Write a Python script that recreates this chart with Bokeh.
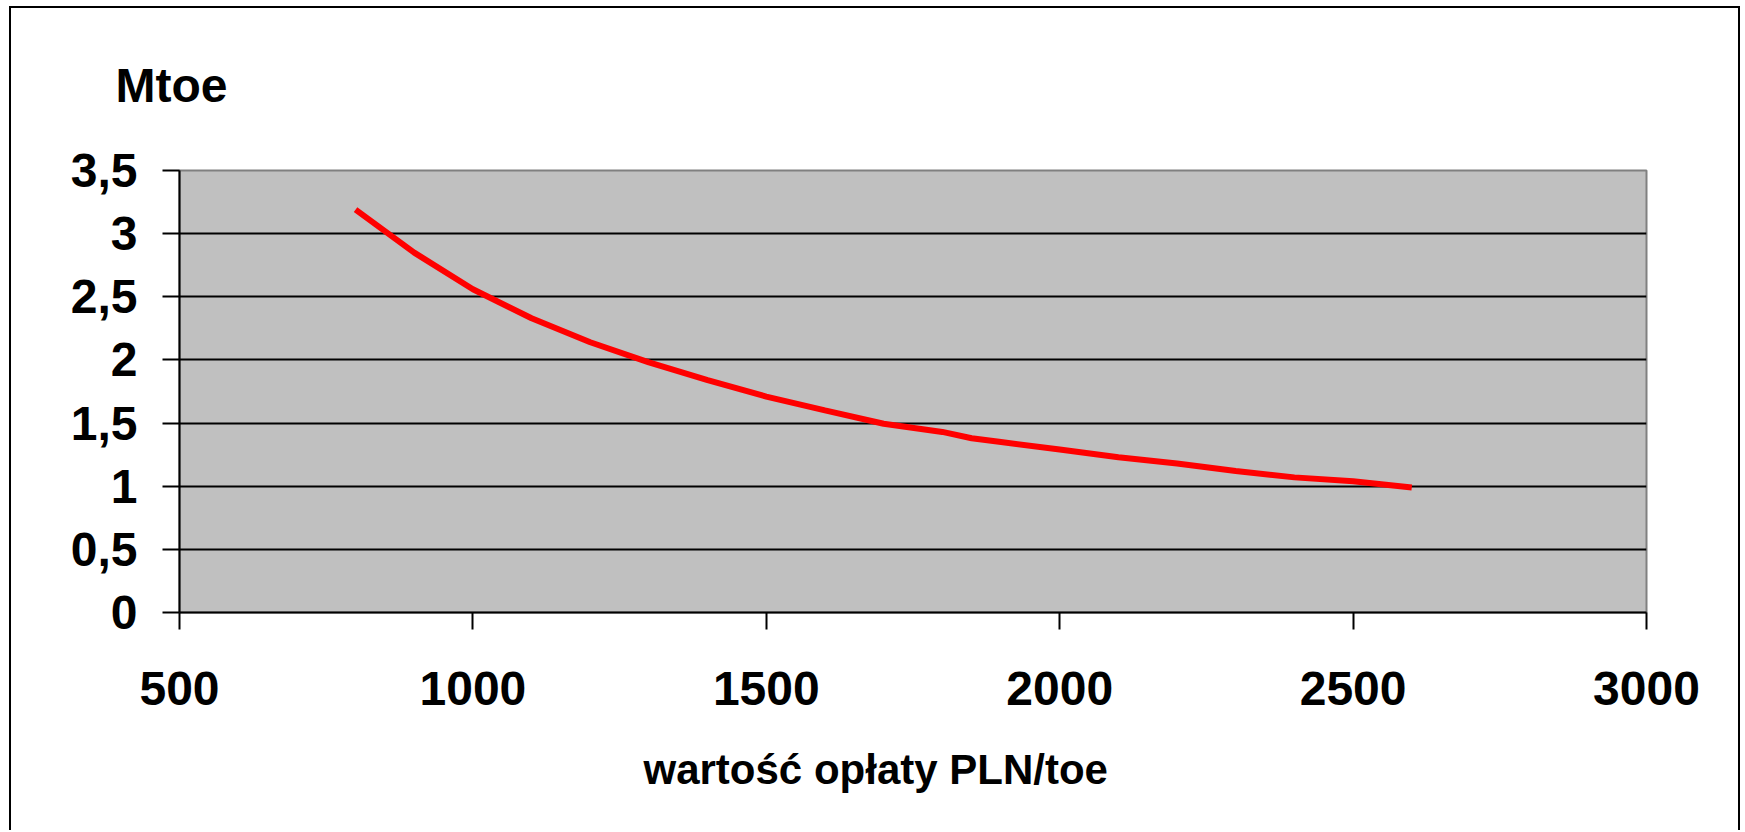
from bokeh.plotting import figure
from bokeh.models import Range1d, FixedTicker, CustomJSTickFormatter, Title
from bokeh.embed import file_html
from bokeh.resources import INLINE

# ---- data ----
fee_pln_per_toe = [800, 900, 1000, 1100, 1200, 1300, 1400, 1500, 1600, 1700,
                   1800, 1850, 1900, 2000, 2100, 2200, 2300, 2400, 2500, 2600]
mtoe = [3.19, 2.85, 2.56, 2.33, 2.14, 1.98, 1.84, 1.71, 1.60, 1.495,
        1.43, 1.38, 1.35, 1.29, 1.23, 1.18, 1.12, 1.07, 1.04, 0.99]
x_ticks = [500, 1000, 1500, 2000, 2500, 3000]
y_ticks = [0, 0.5, 1, 1.5, 2, 2.5, 3, 3.5]
y_unit_label = "Mtoe"
x_title = "wartość opłaty PLN/toe"

FONT = "Liberation Sans"
W, H = 1742, 830

p = figure(width=W, height=H, output_backend="svg", toolbar_location=None,
           x_range=Range1d(x_ticks[0], x_ticks[-1]),
           y_range=Range1d(y_ticks[0], y_ticks[-1]),
           min_border_left=179, min_border_right=96,
           min_border_top=170, min_border_bottom=218)

p.stylesheets = [":host { position: relative; } "
                 ":host::after { content: ''; position: absolute; left: 9px; top: 6px; "
                 "width: 1727px; bottom: 0px; border: 2px solid black; border-bottom: none; "
                 "pointer-events: none; z-index: 100; }"]
p.background_fill_color = "#C0C0C0"
p.border_fill_color = "white"
p.outline_line_color = "#808080"
p.outline_line_width = 2

# grid
p.xgrid.visible = False
p.ygrid.ticker = FixedTicker(ticks=y_ticks[1:-1])
p.ygrid.grid_line_color = "black"
p.ygrid.grid_line_width = 2

# axes
fmt = CustomJSTickFormatter(code="return tick.toString().replace('.', ',');")
p.xaxis.ticker = FixedTicker(ticks=x_ticks)
p.yaxis.ticker = FixedTicker(ticks=y_ticks)
p.yaxis.formatter = fmt
for ax in (p.xaxis[0], p.yaxis[0]):
    ax.axis_line_color = "black"
    ax.axis_line_width = 2
    ax.major_tick_line_color = "black"
    ax.major_tick_line_width = 2
    ax.major_tick_out = 17
    ax.major_tick_in = 0
    ax.minor_tick_line_color = None
    ax.major_label_text_font = FONT
    ax.major_label_text_font_style = "bold"
    ax.major_label_text_font_size = "48px"
    ax.major_label_text_color = "black"
p.yaxis.major_label_standoff = 25
p.xaxis.major_label_standoff = 42

p.line(fee_pln_per_toe, mtoe, line_color="#FF0000", line_width=6)

p.add_layout(Title(text=y_unit_label, text_font=FONT, text_font_style="bold",
                   text_font_size="48px", text_color="black", align="left",
                   vertical_align="top", offset=-64, standoff=114), "above")
p.add_layout(Title(text=x_title, text_font=FONT, text_font_style="bold",
                   text_font_size="42px", text_color="black", align="left",
                   vertical_align="bottom", offset=464, standoff=72), "below")

open("out.html", "w").write(file_html(p, INLINE))
